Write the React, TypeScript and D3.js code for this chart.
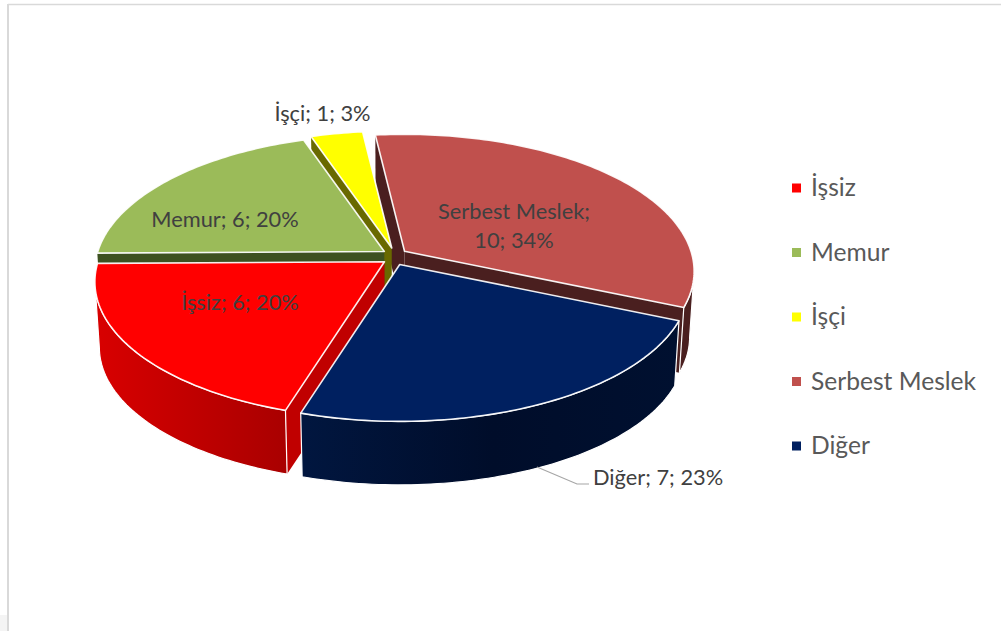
import React from "react";
import * as d3 from "d3";

const categories = ["İşsiz", "Memur", "İşçi", "Serbest Meslek", "Diğer"];
const values = [6, 6, 1, 10, 7];
const percentLabels = ["20%", "20%", "3%", "34%", "23%"];
const topColors = ["#ff0000", "#9bbb59", "#ffff00", "#c0504d", "#002060"];
const cutColors = ["#c00000", "#3d5120", "#696900", "#4a1f1f", "#001030"];
const wallLeft = ["#d80000", "#5f7a30", "#a0a000", "#4a1f1f", "#01163f"];
const wallMid = ["#c00000", "#5f7a30", "#a0a000", "#4a1f1f", "#000d2a"];
const wallRight = ["#a80000", "#5f7a30", "#a0a000", "#4a1f1f", "#001030"];
const drawOrder = [3, 2, 1, 0, 4];

const W = 1001, H = 631;
const CX = 394.5, CY = 256.5;
const RX = 286.5, RY = 134, PERSP = 0.146;
const DEPTH = 66, SHRINK = 0.985;
const EXPLODE = 12.5, EXPLODE_Y = 0.7;
const START = (197.3 * Math.PI) / 180;
const FONT = "Lato, Carlito, 'Noto Sans', sans-serif";

type P = [number, number];

function apexOf(mid: number): P {
  return [CX + EXPLODE * Math.sin(mid), CY - EXPLODE * EXPLODE_Y * Math.cos(mid)];
}
function project(theta: number, apex: P, low: boolean, radius = 1): P {
  const c = Math.sin(theta) * radius;
  const s = -Math.cos(theta) * radius;
  const d = 1 - PERSP * s;
  const x = apex[0] + (RX * c) / d;
  const y = apex[1] + (RY * s) / d;
  if (!low) return [x, y];
  return [CX + (x - CX) * SHRINK, CY + (y - CY) * SHRINK + DEPTH];
}
function arcAngles(a0: number, a1: number): number[] {
  const n = Math.max(4, Math.ceil((a1 - a0) / 0.02));
  return d3.range(n + 1).map((i) => a0 + ((a1 - a0) * i) / n);
}
const line = d3.line<P>().x((d) => d[0]).y((d) => d[1]);
const close = (pts: P[]) => (line(pts) || "") + "Z";

export default function App() {
  const arcs = d3
    .pie<number>()
    .sort(null)
    .startAngle(START)
    .endAngle(START + 2 * Math.PI)(values);

  const legendY = d3.scalePoint<string>().domain(categories).range([188, 446]);

  const slices = drawOrder.map((i) => {
    const a = arcs[i];
    const mid = (a.startAngle + a.endAngle) / 2;
    const apex = apexOf(mid);
    const angles = arcAngles(a.startAngle, a.endAngle);
    const top = angles.map((t) => project(t, apex, false));
    const apexLow = project(0, apex, true, 0);
    // the rim is seen only from the widest point of the ellipse forward
    const front = angles.filter((t) => -Math.cos(t) >= PERSP);
    const rimTop = front.map((t) => project(t, apex, false));
    const rimLow = front.map((t) => project(t, apex, true));
    const showStart = Math.sin(a.startAngle) < 0;
    const showEnd = Math.sin(a.endAngle) > 0;
    return (
      <g key={categories[i]}>
        {showEnd && (
          <path
            d={close([apex, top[top.length - 1], project(a.endAngle, apex, true), apexLow])}
            fill={cutColors[i]}
          />
        )}
        {showStart && (
          <path
            d={close([apex, top[0], project(a.startAngle, apex, true), apexLow])}
            fill={cutColors[i]}
          />
        )}
        {front.length > 1 && (
          <path
            d={close([...rimTop, ...rimLow.slice().reverse()])}
            fill={`url(#wall${i})`}
            stroke="#ffffff"
            strokeWidth={1.2}
          />
        )}
        <path
          d={close([apex, ...top])}
          fill={topColors[i]}
          stroke="#ffffff"
          strokeWidth={1.6}
          strokeLinejoin="round"
          strokeOpacity={0.92}
        />
      </g>
    );
  });

  const labelStyle = { fontFamily: FONT, fontSize: 21.8, fill: "#404040" };
  const lab = (i: number) => `${categories[i]}; ${values[i]}; ${percentLabels[i]}`;

  return (
    <svg
      width={W}
      height={H}
      viewBox={`0 0 ${W} ${H}`}
      style={{ position: "absolute", left: 0, top: 0, display: "block", background: "#fff" }}
    >
      <defs>
        {categories.map((c, i) => (
          <linearGradient
            key={c}
            id={`wall${i}`}
            gradientUnits="userSpaceOnUse"
            x1={i === 0 ? 97 : 306}
            x2={i === 0 ? 290 : 680}
            y1={0}
            y2={0}
          >
            <stop offset="0" stopColor={wallLeft[i]} />
            <stop offset="0.5" stopColor={wallMid[i]} />
            <stop offset="1" stopColor={wallRight[i]} />
          </linearGradient>
        ))}
      </defs>
      <rect x={0} y={615} width={7} height={16} fill="#f4f4f4" />
      <line x1={8} x2={W} y1={4.5} y2={4.5} stroke="#d9d9d9" strokeWidth={1.5} />
      <line x1={8} x2={8} y1={4} y2={H} stroke="#d9d9d9" strokeWidth={2} />

      {slices}

      <polyline points="537,467 577,484 589,484" fill="none" stroke="#a6a6a6" strokeWidth={1.2} />

      <text x={322.5} y={121} textAnchor="middle" style={labelStyle}>{lab(2)}</text>
      <text x={225} y={227} textAnchor="middle" style={labelStyle}>{lab(1)}</text>
      <text x={240} y={310} textAnchor="middle" style={labelStyle}>{lab(0)}</text>
      <text x={514} y={219} textAnchor="middle" style={labelStyle}>{`${categories[3]};`}</text>
      <text x={514} y={248} textAnchor="middle" style={labelStyle}>{`${values[3]}; ${percentLabels[3]}`}</text>
      <text x={593} y={485} style={labelStyle}>{lab(4)}</text>

      {categories.map((c, i) => (
        <g key={c}>
          <rect x={792} y={legendY(c)! - 4.5} width={9} height={9} fill={topColors[i]} />
          <text
            x={811}
            y={legendY(c)! + 8}
            style={{ fontFamily: FONT, fontSize: 24.6, fill: "#595959" }}
          >
            {c}
          </text>
        </g>
      ))}
    </svg>
  );
}
